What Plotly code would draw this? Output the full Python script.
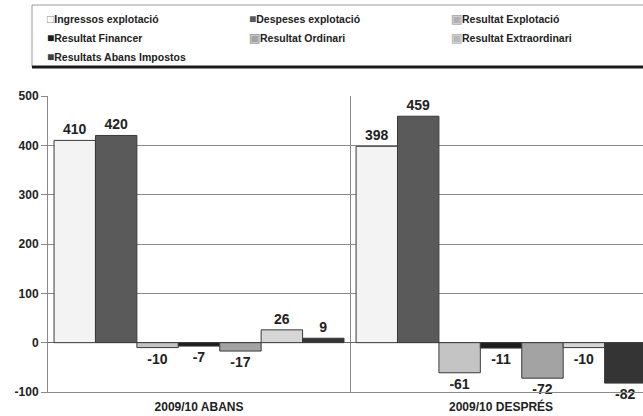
import plotly.graph_objects as go

categories = ["2009/10 ABANS", "2009/10 DESPRÉS"]
series_names = [
    "Ingressos explotació",
    "Despeses explotació",
    "Resultat Explotació",
    "Resultat Financer",
    "Resultat Ordinari",
    "Resultat Extraordinari",
    "Resultats Abans Impostos",
]
ingressos = [410, 398]
despeses = [420, 459]
res_explotacio = [-10, -61]
res_financer = [-7, -11]
res_ordinari = [-17, -72]
res_extraordinari = [26, -10]
res_abans_impostos = [9, -82]
series_values = [ingressos, despeses, res_explotacio, res_financer,
                 res_ordinari, res_extraordinari, res_abans_impostos]
colors = ["#f3f3f3", "#5a5a5a", "#c4c4c4", "#1c1c1c", "#a3a3a3", "#d6d6d6", "#343434"]
legend_glyph_colors = ["#8a8a8a", "#5a5a5a", "#b0b0b0", "#1c1c1c", "#a3a3a3", "#b8b8b8", "#404040"]
legend_glyphs = ["□", "■", "▣", "■", "▣", "▣", "■"]
y_ticks = [-100, 0, 100, 200, 300, 400, 500]

FONT = "Liberation Sans, Arial, sans-serif"

fig = go.Figure()
for name, vals, col in zip(series_names, series_values, colors):
    fig.add_trace(go.Bar(
        x=categories, y=vals, name=name, showlegend=False,
        marker=dict(color=col, line=dict(color="#3a3a3a", width=1)),
        text=[str(v) for v in vals], textposition="outside",
        textfont=dict(family=FONT, size=14, color="#222222", weight="bold"),
        cliponaxis=False, constraintext="none",
    ))

# legend entries (small square glyph + label, as in the original legend)
for name, gcol, glyph in zip(series_names, legend_glyph_colors, legend_glyphs):
    fig.add_trace(go.Scatter(
        x=[None], y=[None], mode="markers",
        marker=dict(size=0.1, color="rgba(0,0,0,0)", line=dict(width=0)),
        name=f"<span style='color:{gcol};font-size:12px'>{glyph}</span>{name}",
        showlegend=True, hoverinfo="skip",
    ))

W, H = 643, 416
ml, mr, mt, mb = 48, 0, 96, 24
pw, ph = W - ml - mr, H - mt - mb

def px(x):
    return (x - ml) / pw

def py(y):
    return (H - mb - y) / ph

fig.update_layout(
    width=W, height=H,
    margin=dict(l=ml, r=mr, t=mt, b=mb),
    paper_bgcolor="white", plot_bgcolor="white",
    barmode="group", bargap=0.04, bargroupgap=0,
    font=dict(family=FONT, size=11, color="#222222"),
    showlegend=True,
    legend=dict(
        orientation="h", x=px(7), xanchor="left", y=py(4), yanchor="top",
        entrywidth=157, entrywidthmode="pixels",
        font=dict(family=FONT, size=10.5, color="#222222", weight="bold"),
        bgcolor="rgba(0,0,0,0)", borderwidth=0, traceorder="normal",
    ),
    shapes=[
        dict(type="rect", xref="paper", yref="paper",
             x0=px(32), x1=px(650), y0=py(67), y1=py(5),
             line=dict(color="#9a9a9a", width=1), fillcolor="rgba(0,0,0,0)", layer="below"),
        dict(type="line", xref="paper", yref="paper",
             x0=px(32), x1=px(650), y0=py(67), y1=py(67),
             line=dict(color="#1a1a1a", width=3)),
    ],
)

fig.update_xaxes(
    range=[-0.5, 1.47], type="category",
    tickson="boundaries", showgrid=True, gridcolor="#8a8a8a", gridwidth=1,
    showline=True, linecolor="#8a8a8a", linewidth=1, ticks="",
    ticklabelstandoff=4,
    tickfont=dict(family=FONT, size=12, color="#222222", weight="bold"),
    fixedrange=True,
)
fig.update_yaxes(
    range=[-100, 500], tickvals=y_ticks, ticktext=[str(v) for v in y_ticks],
    showgrid=True, gridcolor="#8a8a8a", gridwidth=1,
    zeroline=True, zerolinecolor="#6a6a6a", zerolinewidth=1,
    showline=True, linecolor="#8a8a8a", linewidth=1,
    ticks="outside", ticklen=6, tickcolor="#8a8a8a",
    tickfont=dict(family=FONT, size=12, color="#222222", weight="bold"),
    fixedrange=True,
)

fig.write_html("out.html")
